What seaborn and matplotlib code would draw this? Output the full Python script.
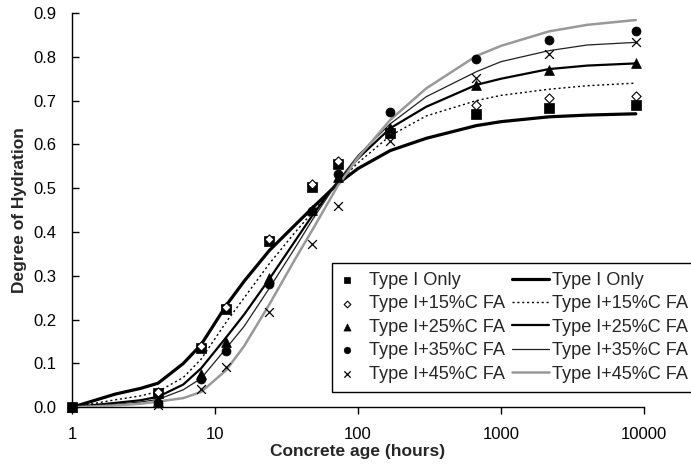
import numpy as np
import pandas as pd
import matplotlib
matplotlib.use("Agg")
import matplotlib.pyplot as plt
import seaborn as sns
from matplotlib.legend_handler import HandlerPathCollection, HandlerLine2D

# ---- data ----
labels = ["Type I Only", "Type I+15%C FA", "Type I+25%C FA",
          "Type I+35%C FA", "Type I+45%C FA"]

# measured points
t_pts = [1, 4, 8, 12, 24, 48, 72, 168, 672, 2160, 8760]
pts_typeI = [0, 0.033, 0.136, 0.224, 0.380, 0.502, 0.555, 0.626, 0.670, 0.684, 0.689]
pts_fa15 = [0, 0.036, 0.140, 0.230, 0.384, 0.510, 0.563, 0.634, 0.691, 0.705, 0.711]
pts_fa25 = [0, 0.015, 0.077, 0.150, 0.296, 0.450, 0.525, 0.637, 0.736, 0.769, 0.785]
pts_fa35 = [0, 0.009, 0.065, 0.129, 0.281, 0.448, 0.533, 0.673, 0.796, 0.839, 0.860]
pts_fa45 = [0, 0.005, 0.042, 0.091, 0.218, 0.373, 0.460, 0.608, 0.751, 0.807, 0.833]

# fitted curves
t_fit = [1, 2, 3, 4, 6, 8, 12, 16, 24, 36, 48, 72, 100, 168, 300, 672, 1000, 2160, 4000, 8760]
fit_typeI = [0, 0.030, 0.043, 0.055, 0.100, 0.143, 0.233, 0.288, 0.358, 0.415, 0.455, 0.510,
             0.545, 0.586, 0.614, 0.643, 0.652, 0.663, 0.667, 0.670]
fit_fa15 = [0, 0.017, 0.026, 0.036, 0.068, 0.110, 0.195, 0.250, 0.328, 0.398, 0.445, 0.512,
            0.558, 0.620, 0.665, 0.700, 0.712, 0.726, 0.734, 0.740]
fit_fa25 = [0, 0.010, 0.016, 0.024, 0.052, 0.089, 0.160, 0.212, 0.293, 0.378, 0.438, 0.515,
            0.568, 0.637, 0.686, 0.736, 0.750, 0.772, 0.780, 0.785]
fit_fa35 = [0, 0.007, 0.012, 0.018, 0.040, 0.066, 0.135, 0.185, 0.272, 0.362, 0.428, 0.515,
            0.575, 0.647, 0.709, 0.766, 0.789, 0.814, 0.827, 0.833]
fit_fa45 = [0, 0.004, 0.008, 0.013, 0.021, 0.035, 0.085, 0.140, 0.235, 0.336, 0.405, 0.505,
            0.570, 0.656, 0.728, 0.802, 0.825, 0.858, 0.873, 0.884]

x_ticks = [1, 10, 100, 1000, 10000]
x_tick_labels = ["1", "10", "100", "1000", "10000"]
y_ticks = [0.0, 0.1, 0.2, 0.3, 0.4, 0.5, 0.6, 0.7, 0.8, 0.9]

# ---- style ----
sns.set_style("white")
plt.rcParams["font.family"] = ["Liberation Sans", "DejaVu Sans"]
plt.rcParams["legend.numpoints"] = 1

fig = plt.figure(figsize=(6.91, 4.65), dpi=100)
ax = fig.add_axes([0.1042, 0.1241, 0.8278, 0.8479])
ax.set_xscale("log")

pts_series = [pts_typeI, pts_fa15, pts_fa25, pts_fa35, pts_fa45]
fit_series = [fit_typeI, fit_fa15, fit_fa25, fit_fa35, fit_fa45]

marker_styles = [
    dict(marker="s", s=42, color="black", edgecolor="black", linewidth=0.5),
    dict(marker="D", s=22, facecolor="white", edgecolor="black", linewidth=0.8),
    dict(marker="^", s=50, color="black", edgecolor="black", linewidth=0.5),
    dict(marker="o", s=42, color="black", edgecolor="black", linewidth=0.5),
    dict(marker="x", s=40, color="black", linewidth=0.9),
]
line_styles = [
    dict(color="black", linewidth=2.3, linestyle="-"),
    dict(color="black", linewidth=1.0, linestyle=(0, (1.5, 2.0))),
    dict(color="black", linewidth=1.6, linestyle="-"),
    dict(color="#202020", linewidth=0.9, linestyle="-"),
    dict(color="#999999", linewidth=1.8, linestyle="-"),
]

for lab, ys, st in zip(labels, pts_series, marker_styles):
    df = pd.DataFrame({"t": t_pts, "v": ys})
    sns.scatterplot(data=df, x="t", y="v", ax=ax, label=lab, clip_on=False,
                    zorder=4, **st)

for lab, ys, st in zip(labels, fit_series, line_styles):
    df = pd.DataFrame({"t": t_fit, "v": ys})
    sns.lineplot(data=df, x="t", y="v", ax=ax, label=lab, sort=True,
                 errorbar=None, zorder=3, **st)

ax.set_xlim(1, 10000)
ax.set_ylim(0, 0.9)
ax.set_xticks(x_ticks)
ax.set_xticklabels(x_tick_labels)
ax.xaxis.set_minor_locator(matplotlib.ticker.NullLocator())
ax.set_yticks(y_ticks)
ax.set_yticklabels([f"{v:.1f}" for v in y_ticks])

for side in ["top", "right"]:
    ax.spines[side].set_visible(False)
for side in ["left", "bottom"]:
    ax.spines[side].set_color("black")
    ax.spines[side].set_linewidth(1.0)

ax.tick_params(axis="y", direction="in", length=5, width=1, colors="black",
               labelsize=12, pad=11, left=True)
ax.tick_params(axis="x", direction="out", length=5, width=1, colors="black",
               labelsize=12, pad=9.5, bottom=True)

ax.set_xlabel("Concrete age (hours)", fontsize=12.5, fontweight="bold", labelpad=1)
ax.set_ylabel("Degree of Hydration", fontsize=12.5, fontweight="bold", labelpad=5)


class LeftMarkerHandler(HandlerPathCollection):
    def get_xdata(self, legend, xdescent, ydescent, width, height, fontsize):
        xdata, _ = super().get_xdata(legend, xdescent, ydescent, width, height, fontsize)
        return xdata, np.array([-xdescent + 0.23 * width])


class LongLineHandler(HandlerLine2D):
    def get_xdata(self, legend, xdescent, ydescent, width, height, fontsize):
        xdata = np.array([-xdescent - 0.47 * width, -xdescent + width])
        return xdata, np.array([-xdescent + 0.5 * width])


handles, labs = ax.get_legend_handles_labels()
if ax.get_legend() is not None:
    ax.get_legend().remove()

handler_map = {h: LeftMarkerHandler(numpoints=1) for h in handles[:5]}
for h in handles[5:]:
    handler_map[h] = LongLineHandler()

leg = fig.legend(handles, labs, loc="upper left",
                 bbox_to_anchor=(332 / 691, 1 - 263 / 465),
                 ncol=2, fontsize=13.1, frameon=True, fancybox=False,
                 handlelength=1.36, handletextpad=0.2, columnspacing=1.0,
                 labelspacing=0.35, borderpad=0.5, borderaxespad=0,
                 markerscale=0.72, scatterpoints=1, handler_map=handler_map)
leg.get_frame().set_edgecolor("black")
leg.get_frame().set_linewidth(1.0)
leg.get_frame().set_alpha(1)

fig.savefig("out.png", dpi=100)
